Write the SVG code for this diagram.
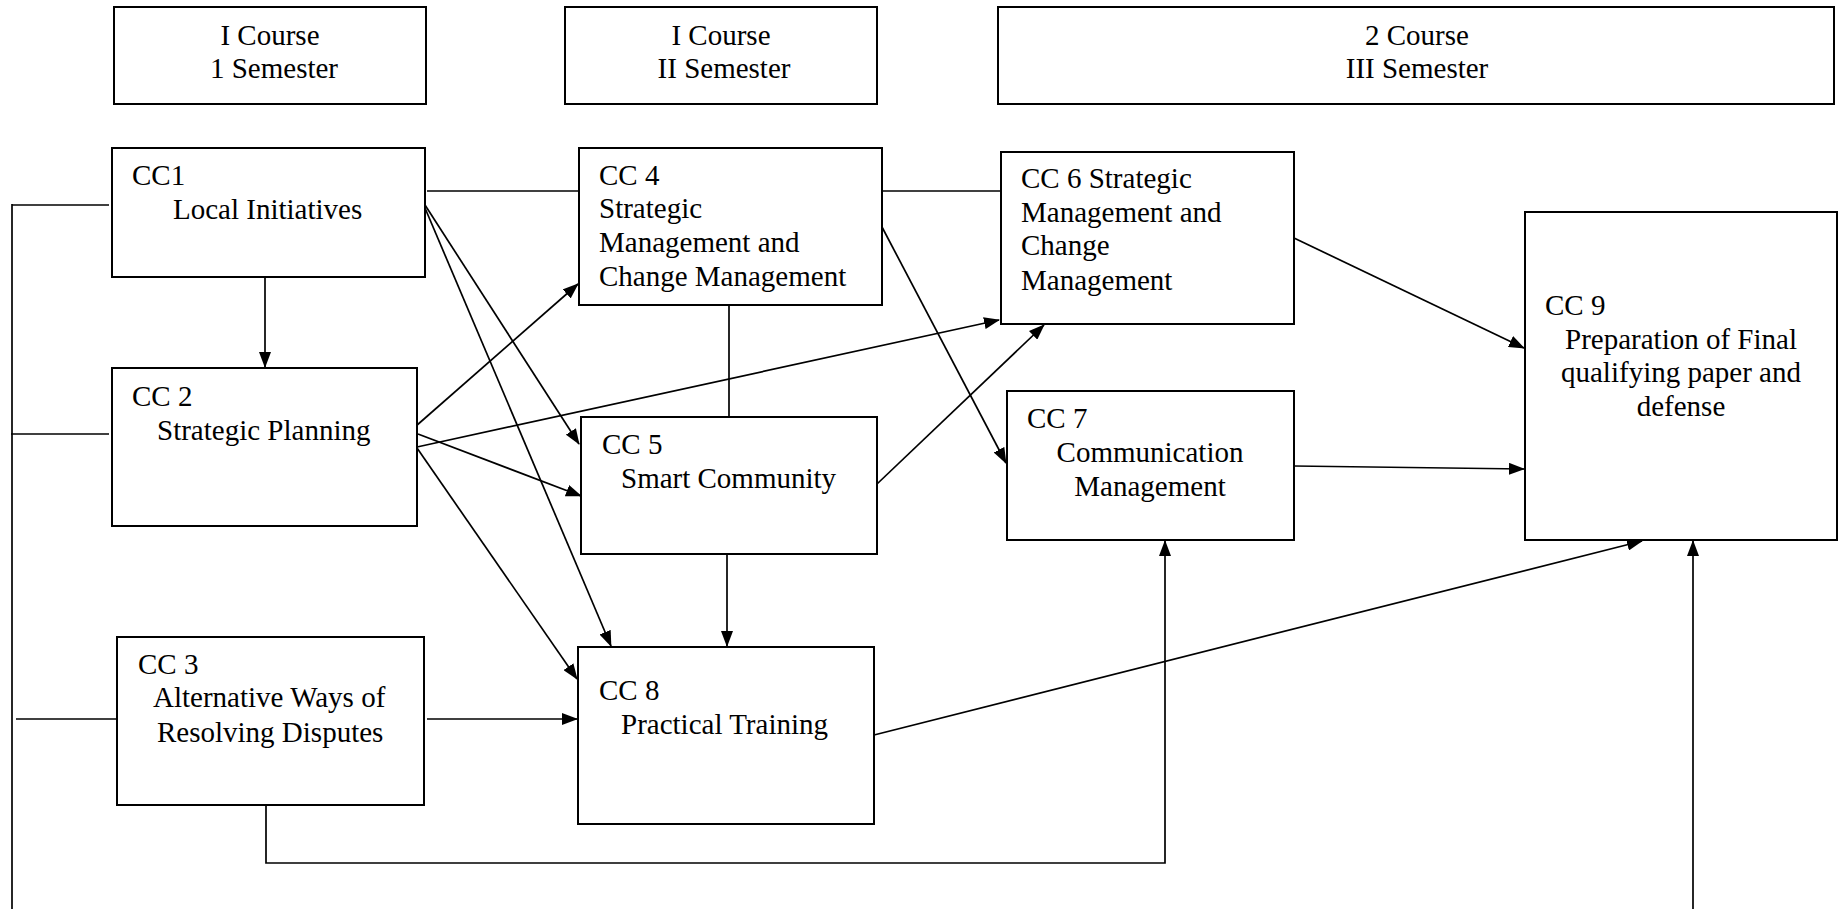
<svg xmlns="http://www.w3.org/2000/svg" width="1841" height="909" viewBox="0 0 1841 909">
<style>
  .box { fill: #fff; stroke: #000; stroke-width: 2; }
  .t { font-family: "Liberation Serif", "Times New Roman", serif; font-size: 29px; fill: #000; }
  .c { text-anchor: middle; }
  .ln { fill: none; stroke: #000; stroke-width: 1.7; }
  .ar { fill: none; stroke: #000; stroke-width: 1.7; marker-end: url(#ah); }
</style>
<defs>
  <marker id="ah" markerUnits="userSpaceOnUse" markerWidth="16" markerHeight="12" viewBox="0 0 16 12" refX="15" refY="6" orient="auto">
    <path d="M0,0 L16,6 L0,12 z" fill="#000"/>
  </marker>
</defs>
<rect width="1841" height="909" fill="#fff"/>

<g id="connectors">
  <!-- left bus -->
  <path class="ln" d="M12,204 L12,909"/>
  <path class="ln" d="M12,205 L109,205"/>
  <path class="ln" d="M11,434 L109,434"/>
  <path class="ln" d="M16,719 L117,719"/>
  <!-- CC1 -> CC2 -->
  <path class="ar" d="M265,277 L265,367"/>
  <!-- CC1 - CC4 - CC6 -->
  <path class="ln" d="M427,191 L581,191"/>
  <path class="ln" d="M882,191 L1001,191"/>
  <!-- CC1 -> CC5, CC8 -->
  <path class="ar" d="M425,205 L579,444"/>
  <path class="ar" d="M425,208 L611,646"/>
  <!-- CC2 -> CC4, CC5, CC6, CC8 -->
  <path class="ar" d="M416,426 L578,284"/>
  <path class="ar" d="M418,434 L581,496"/>
  <path class="ar" d="M417,447 L999,320"/>
  <path class="ar" d="M417,448 L577,679"/>
  <!-- CC3 -> CC8 -->
  <path class="ar" d="M427,719 L577,719"/>
  <!-- CC3 -> CC7 -->
  <path class="ar" d="M266,805 L266,863 L1165,863 L1165,541"/>
  <!-- CC4 - CC5 -->
  <path class="ln" d="M729,305 L729,417"/>
  <!-- CC4 -> CC7 -->
  <path class="ar" d="M882,227 L1006,463"/>
  <!-- CC5 -> CC6 -->
  <path class="ar" d="M877,484 L1044,325"/>
  <!-- CC5 -> CC8 -->
  <path class="ar" d="M727,554 L727,646"/>
  <!-- CC6 -> CC9 -->
  <path class="ar" d="M1294,238 L1524,348"/>
  <!-- CC7 -> CC9 -->
  <path class="ar" d="M1294,466 L1524,469"/>
  <!-- CC8 -> CC9 -->
  <path class="ar" d="M874,735 L1642,541"/>
  <!-- bottom -> CC9 -->
  <path class="ar" d="M1693,909 L1693,541"/>
</g>

<g id="header1">
  <rect class="box" x="114" y="7" width="312" height="97"/>
  <text class="t c" x="270" y="45">I Course</text>
  <text class="t c" x="274" y="78">1 Semester</text>
</g>
<g id="header2">
  <rect class="box" x="565" y="7" width="312" height="97"/>
  <text class="t c" x="721" y="45">I Course</text>
  <text class="t c" x="724" y="78">II Semester</text>
</g>
<g id="header3">
  <rect class="box" x="998" y="7" width="836" height="97"/>
  <text class="t c" x="1417" y="45">2 Course</text>
  <text class="t c" x="1417" y="78">III Semester</text>
</g>

<g id="cc1">
  <rect class="box" x="112" y="148" width="313" height="129"/>
  <text class="t" x="132" y="185">CC1</text>
  <text class="t" x="173" y="219">Local Initiatives</text>
</g>
<g id="cc2">
  <rect class="box" x="112" y="368" width="305" height="158"/>
  <text class="t" x="132" y="406">CC 2</text>
  <text class="t" x="157" y="440">Strategic Planning</text>
</g>
<g id="cc3">
  <rect class="box" x="117" y="637" width="307" height="168"/>
  <text class="t" x="138" y="674">CC 3</text>
  <text class="t" x="153" y="707">Alternative Ways of</text>
  <text class="t" x="157" y="742">Resolving Disputes</text>
</g>
<g id="cc4">
  <rect class="box" x="579" y="148" width="303" height="157"/>
  <text class="t" x="599" y="185">CC 4</text>
  <text class="t" x="599" y="218">Strategic</text>
  <text class="t" x="599" y="252">Management and</text>
  <text class="t" x="599" y="286">Change Management</text>
</g>
<g id="cc5">
  <rect class="box" x="581" y="417" width="296" height="137"/>
  <text class="t" x="602" y="454">CC 5</text>
  <text class="t" x="621" y="488">Smart Community</text>
</g>
<g id="cc6">
  <rect class="box" x="1001" y="152" width="293" height="172"/>
  <text class="t" x="1021" y="188">CC 6 Strategic</text>
  <text class="t" x="1021" y="222">Management and</text>
  <text class="t" x="1021" y="255">Change</text>
  <text class="t" x="1021" y="290">Management</text>
</g>
<g id="cc7">
  <rect class="box" x="1007" y="391" width="287" height="149"/>
  <text class="t" x="1027" y="428">CC 7</text>
  <text class="t c" x="1150" y="462">Communication</text>
  <text class="t c" x="1150" y="496">Management</text>
</g>
<g id="cc8">
  <rect class="box" x="578" y="647" width="296" height="177"/>
  <text class="t" x="599" y="700">CC 8</text>
  <text class="t" x="621" y="734">Practical Training</text>
</g>
<g id="cc9">
  <rect class="box" x="1525" y="212" width="312" height="328"/>
  <text class="t" x="1545" y="315">CC 9</text>
  <text class="t c" x="1681" y="349">Preparation of Final</text>
  <text class="t c" x="1681" y="382">qualifying paper and</text>
  <text class="t c" x="1681" y="416">defense</text>
</g>
</svg>
